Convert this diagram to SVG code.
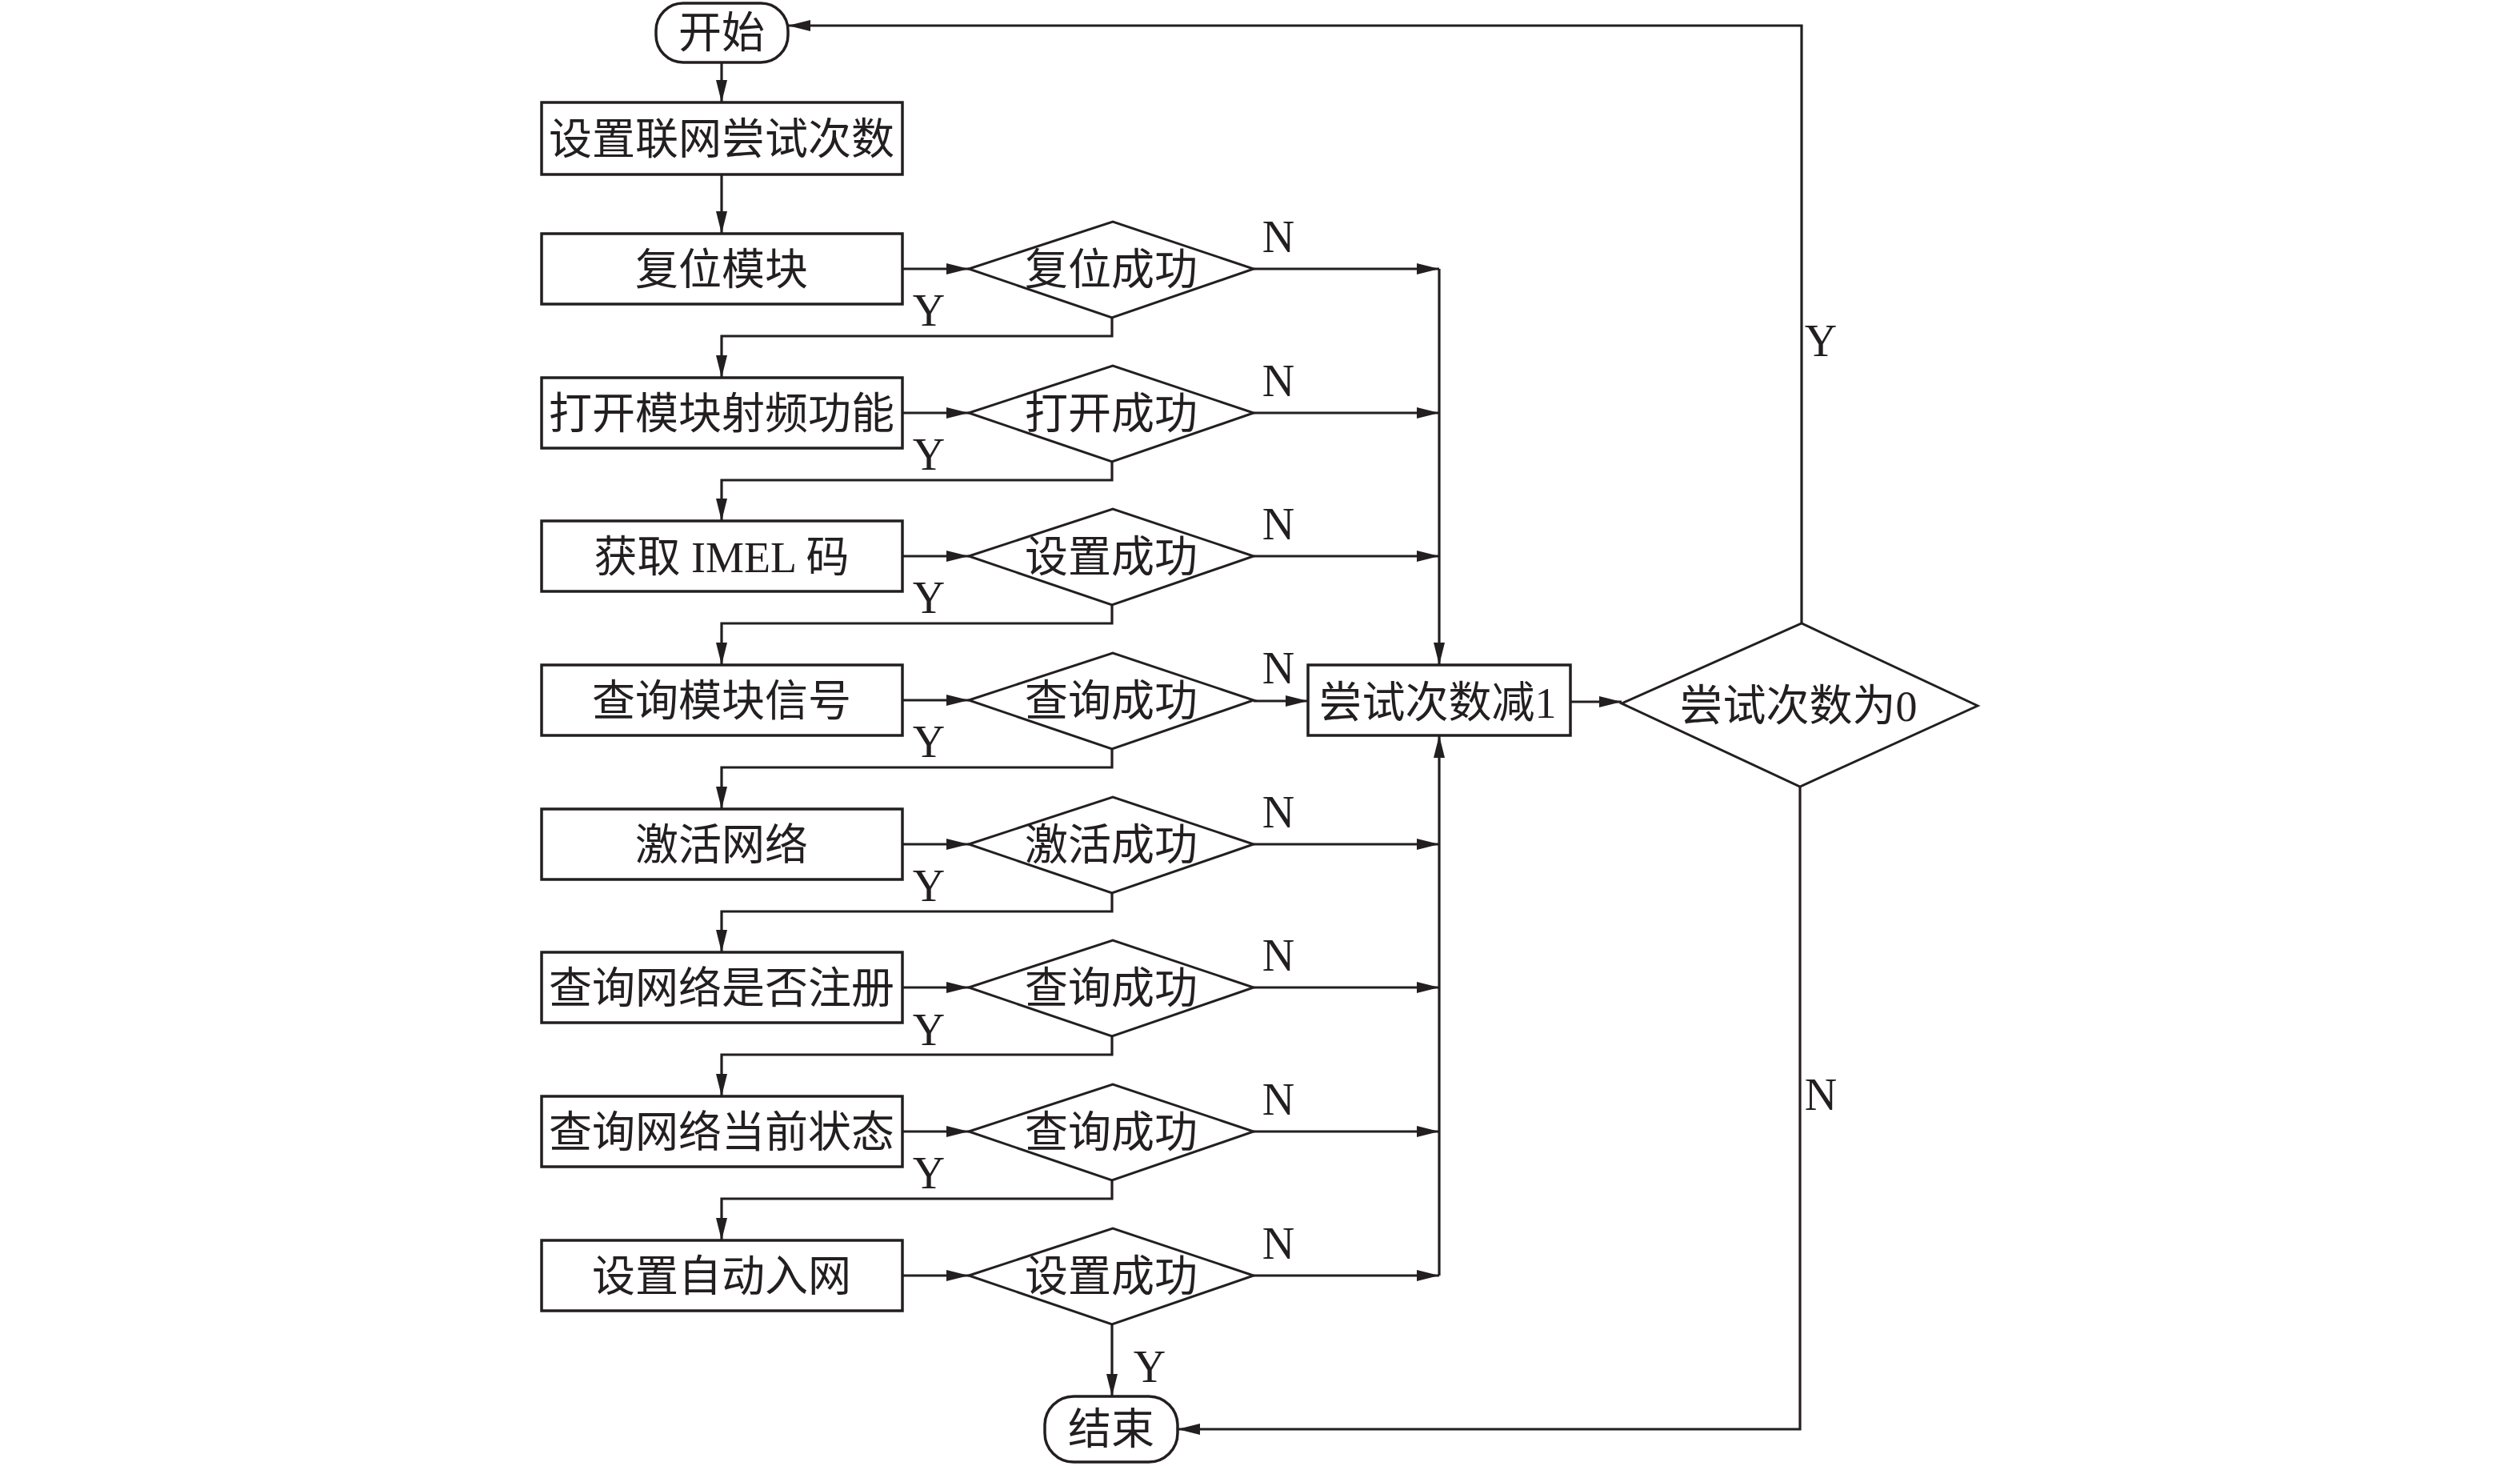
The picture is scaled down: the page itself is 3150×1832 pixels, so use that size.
<svg xmlns="http://www.w3.org/2000/svg" width="3150" height="1832" viewBox="0 0 3150 1832">
<style>
.bg{fill:#ffffff}
.box{fill:#ffffff;stroke:#231f20;stroke-width:3.5}
.dia{fill:#ffffff;stroke:#231f20;stroke-width:3}
.ln{fill:none;stroke:#231f20;stroke-width:3.2;marker-end:url(#ah)}
.pl{fill:none;stroke:#231f20;stroke-width:3.2}
.t{font-family:"Liberation Serif","Noto Sans CJK SC",serif;font-size:54px;fill:#231f20;text-anchor:middle}
.lb{font-family:"Liberation Serif",serif;font-size:56px;fill:#231f20;text-anchor:middle}
</style>
<defs>
<marker id="ah" markerUnits="userSpaceOnUse" markerWidth="28" markerHeight="14" refX="28" refY="7" orient="auto">
<path d="M0,0 L28,7 L0,14 z" fill="#231f20"/>
</marker>
</defs>
<rect class="bg" x="0" y="0" width="3150" height="1832"/>

<g id="connectors">
<path class="ln" d="M902,78 V128"/>
<path class="ln" d="M902,218 V292"/>
<!-- box to diamond -->
<path class="ln" d="M1128,336 H1211"/>
<path class="ln" d="M1128,516 H1211"/>
<path class="ln" d="M1128,695 H1211"/>
<path class="ln" d="M1128,875 H1211"/>
<path class="ln" d="M1128,1055 H1211"/>
<path class="ln" d="M1128,1234 H1211"/>
<path class="ln" d="M1128,1414 H1211"/>
<path class="ln" d="M1128,1594 H1211"/>
<!-- Y connectors -->
<path class="ln" d="M1390,397 V420 H902 V472"/>
<path class="ln" d="M1390,577 V600 H902 V651"/>
<path class="ln" d="M1390,756 V779 H902 V831"/>
<path class="ln" d="M1390,936 V959 H902 V1011"/>
<path class="ln" d="M1390,1116 V1139 H902 V1190"/>
<path class="ln" d="M1390,1295 V1318 H902 V1370"/>
<path class="ln" d="M1390,1475 V1498 H902 V1550"/>
<path class="ln" d="M1390,1655 V1745"/>
<!-- N connectors -->
<path class="ln" d="M1567,336 H1799"/>
<path class="ln" d="M1567,516 H1799"/>
<path class="ln" d="M1567,695 H1799"/>
<path class="ln" d="M1567,876 H1635"/>
<path class="ln" d="M1567,1055 H1799"/>
<path class="ln" d="M1567,1234 H1799"/>
<path class="ln" d="M1567,1414 H1799"/>
<path class="ln" d="M1567,1594 H1799"/>
<path class="ln" d="M1799,336 V831"/>
<path class="ln" d="M1799,1594 V919"/>
<path class="ln" d="M1963,877 H2027"/>
<path class="ln" d="M2252,779 V32 H985"/>
<path class="ln" d="M2250,983 V1786 H1472"/>
</g>

<g id="start">
<rect class="box" x="820" y="4" width="165" height="74" rx="34" ry="34"/>
<text class="t" x="902" y="60">开始</text>
</g>
<g id="set-attempts">
<rect class="box" x="677" y="128" width="451" height="90"/>
<text class="t" x="902" y="193">设置联网尝试次数</text>
</g>
<g id="reset-module">
<rect class="box" x="677" y="292" width="451" height="88"/>
<text class="t" x="902" y="356">复位模块</text>
</g>
<g id="open-rf">
<rect class="box" x="677" y="472" width="451" height="88"/>
<text class="t" x="902" y="536">打开模块射频功能</text>
</g>
<g id="get-imel">
<rect class="box" x="677" y="651" width="451" height="88"/>
<text class="t" x="902" y="715">获取 IMEL 码</text>
</g>
<g id="query-signal">
<rect class="box" x="677" y="831" width="451" height="88"/>
<text class="t" x="902" y="895">查询模块信号</text>
</g>
<g id="activate-net">
<rect class="box" x="677" y="1011" width="451" height="88"/>
<text class="t" x="902" y="1075">激活网络</text>
</g>
<g id="query-reg">
<rect class="box" x="677" y="1190" width="451" height="88"/>
<text class="t" x="902" y="1254">查询网络是否注册</text>
</g>
<g id="query-state">
<rect class="box" x="677" y="1370" width="451" height="88"/>
<text class="t" x="902" y="1434">查询网络当前状态</text>
</g>
<g id="auto-join">
<rect class="box" x="677" y="1550" width="451" height="88"/>
<text class="t" x="902" y="1614">设置自动入网</text>
</g>

<g id="d-reset">
<polygon class="dia" points="1211,336 1391,277 1567,336 1390,397"/>
<text class="t" x="1389" y="356">复位成功</text>
</g>
<g id="d-open">
<polygon class="dia" points="1211,516 1391,457 1567,516 1390,577"/>
<text class="t" x="1389" y="536">打开成功</text>
</g>
<g id="d-set1">
<polygon class="dia" points="1211,695 1391,636 1567,695 1390,756"/>
<text class="t" x="1389" y="715">设置成功</text>
</g>
<g id="d-query1">
<polygon class="dia" points="1211,875 1391,816 1567,875 1390,936"/>
<text class="t" x="1389" y="895">查询成功</text>
</g>
<g id="d-activate">
<polygon class="dia" points="1211,1055 1391,996 1567,1055 1390,1116"/>
<text class="t" x="1389" y="1075">激活成功</text>
</g>
<g id="d-query2">
<polygon class="dia" points="1211,1234 1391,1175 1567,1234 1390,1295"/>
<text class="t" x="1389" y="1254">查询成功</text>
</g>
<g id="d-query3">
<polygon class="dia" points="1211,1414 1391,1355 1567,1414 1390,1475"/>
<text class="t" x="1389" y="1434">查询成功</text>
</g>
<g id="d-set2">
<polygon class="dia" points="1211,1594 1391,1535 1567,1594 1390,1655"/>
<text class="t" x="1389" y="1614">设置成功</text>
</g>

<g id="decrement">
<rect class="box" x="1635" y="831" width="328" height="88"/>
<text class="t" x="1797" y="897">尝试次数减1</text>
</g>
<g id="d-zero">
<polygon class="dia" points="2027,879 2252,779 2472,882 2250,983"/>
<text class="t" x="2248" y="901">尝试次数为0</text>
</g>
<g id="end">
<rect class="box" x="1306" y="1745" width="166" height="82" rx="36" ry="36"/>
<text class="t" x="1389" y="1805">结束</text>
</g>

<g id="labels">
<text class="lb" x="1161" y="407">Y</text>
<text class="lb" x="1161" y="587">Y</text>
<text class="lb" x="1161" y="766">Y</text>
<text class="lb" x="1161" y="946">Y</text>
<text class="lb" x="1161" y="1126">Y</text>
<text class="lb" x="1161" y="1306">Y</text>
<text class="lb" x="1161" y="1485">Y</text>
<text class="lb" x="1437" y="1727">Y</text>
<text class="lb" x="1598" y="315">N</text>
<text class="lb" x="1598" y="495">N</text>
<text class="lb" x="1598" y="674">N</text>
<text class="lb" x="1598" y="854">N</text>
<text class="lb" x="1598" y="1034">N</text>
<text class="lb" x="1598" y="1213">N</text>
<text class="lb" x="1598" y="1393">N</text>
<text class="lb" x="1598" y="1573">N</text>
<text class="lb" x="2276" y="445">Y</text>
<text class="lb" x="2276" y="1387">N</text>
</g>
</svg>
